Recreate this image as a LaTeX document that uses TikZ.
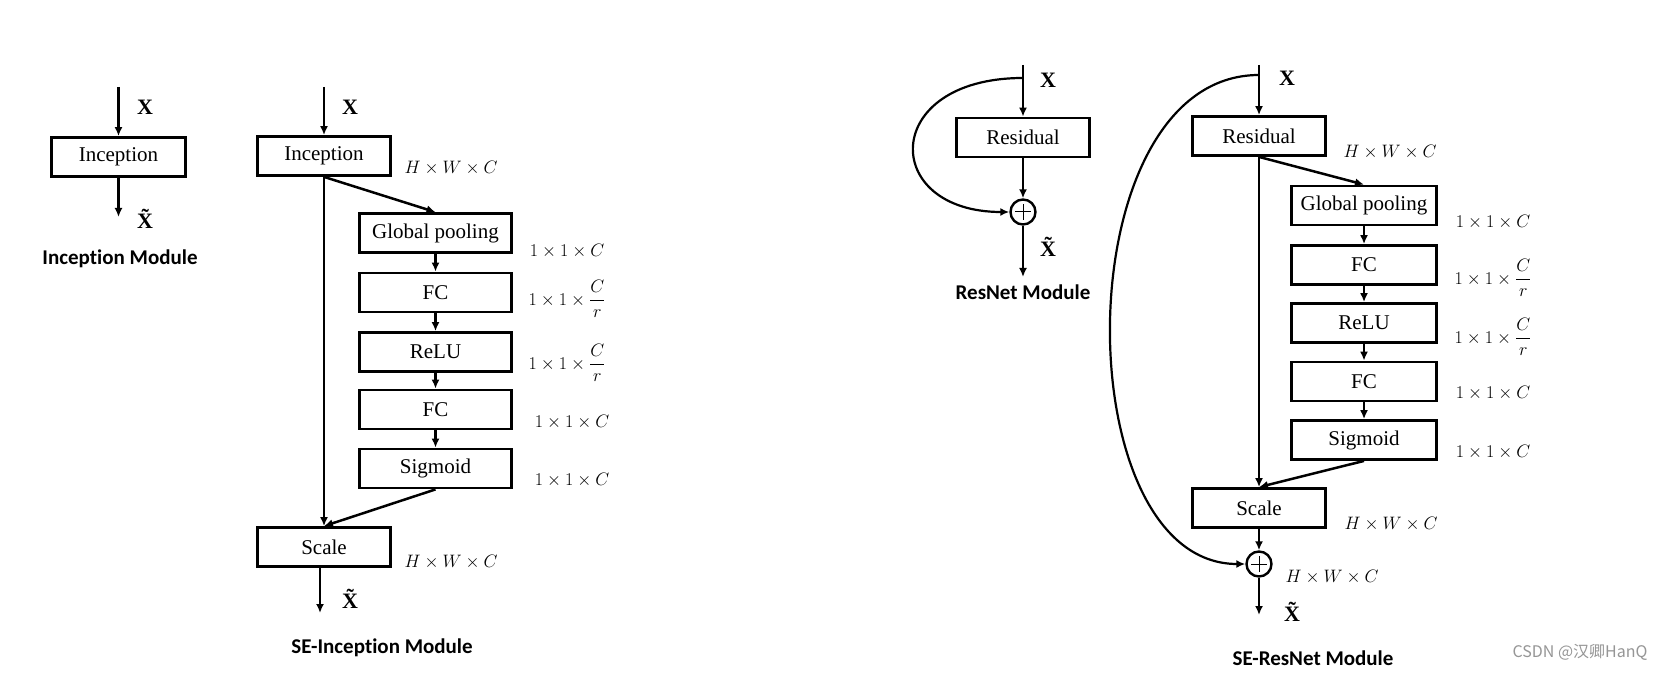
\RequirePackage{fix-cm}
\documentclass[tikz,border=0pt]{standalone}
\usepackage{fontspec}
\setmainfont{Liberation Serif}
\newfontfamily\titlefont[Ligatures={NoCommon}]{Carlito}
\newfontfamily\cjkfont{Noto Sans CJK SC}
\usetikzlibrary{arrows.meta}
\definecolor{wmgray}{RGB}{150,150,150}
\tikzset{
  blk/.style={draw, line width=2.8pt, inner sep=0pt, minimum height=39pt, font=\fontsize{21}{24}\selectfont},
  arr/.style={line width=2.5pt, -{Latex[length=9pt,width=8pt]}},
  carr/.style={line width=2.2pt, -{Latex[length=9pt,width=8pt]}},
  xlab/.style={inner sep=0pt, font=\fontsize{22}{24}\selectfont\bfseries},
  dlab/.style={inner sep=0pt, font=\fontsize{18}{20}\selectfont},
  hlab/.style={inner sep=0pt, font=\fontsize{18}{20}\selectfont},
  ttl/.style={inner sep=0pt, font=\fontsize{21}{24}\selectfont\titlefont\bfseries},
  wm/.style={inner sep=0pt, text=wmgray, font=\fontsize{16}{18}\selectfont\cjkfont},
  plusc/.style={draw, circle, line width=2.4pt, minimum size=25pt, inner sep=0pt,
    path picture={\draw[line width=1pt]
      ([xshift=-8pt]path picture bounding box.center) -- ([xshift=8pt]path picture bounding box.center)
      ([yshift=-8pt]path picture bounding box.center) -- ([yshift=8pt]path picture bounding box.center);}}
}
\begin{document}
\begin{tikzpicture}[x=1pt,y=-1pt]
\useasboundingbox (0,0) rectangle (1660,676);
\fill[white] (0,0) rectangle (1660,676);

% ---------- Inception Module ----------
\node[blk, minimum width=134pt] (inc1) at (118.5,157) {Inception};
\coordinate (inc1in) at (118.5,87);
\coordinate (inc1out) at (118.5,217);
\draw[arr] (inc1in) -- (inc1.north);
\draw[arr] (inc1.south) -- (inc1out);
\node[xlab] (x1) at (145,107) {X};
\node[xlab] (xt1) at (145,219) {\~X};
\node[ttl] (t1) at (120,259) {Inception Module};

% ---------- SE-Inception Module ----------
\node[blk, minimum width=133pt] (inc2) at (324,156) {Inception};
\node[blk, minimum width=152pt] (gp1) at (435.5,233) {Global pooling};
\node[blk, minimum width=152pt] (fc1) at (435.5,292.5) {FC};
\node[blk, minimum width=152pt] (relu1) at (435.5,352) {ReLU};
\node[blk, minimum width=152pt] (fc2) at (435.5,409.5) {FC};
\node[blk, minimum width=152pt] (sig1) at (435.5,468.5) {Sigmoid};
\node[blk, minimum width=133pt] (scale1) at (324,547) {Scale};
\coordinate (inc2in) at (324,87);
\coordinate (scale1out) at (320,613);
\draw[arr] (inc2in) -- (inc2.north);
\draw[arr] (inc2.south) -- (scale1.north);
\draw[arr] (inc2.south) -- (gp1.north);
\draw[arr] (gp1) -- (fc1);
\draw[arr] (fc1) -- (relu1);
\draw[arr] (relu1) -- (fc2);
\draw[arr] (fc2) -- (sig1);
\draw[arr] (sig1.south) -- (scale1.north);
\draw[arr] ([xshift=-4pt]scale1.south) -- (scale1out);
\node[xlab] (x2) at (350,107) {X};
\node[xlab] (xt2) at (350,599) {\~X};
\node[hlab] (hw1) at (451,168) {$H\times W\times C$};
\node[dlab] (d1) at (567,251) {$1\times 1\times C$};
\node[dlab] (d2) at (567,299) {$1\times 1\times \displaystyle\frac{C}{r}$};
\node[dlab] (d3) at (567,363) {$1\times 1\times \displaystyle\frac{C}{r}$};
\node[dlab] (d4) at (572,422) {$1\times 1\times C$};
\node[dlab] (d5) at (572,480) {$1\times 1\times C$};
\node[hlab] (hw2) at (451,562) {$H\times W\times C$};
\node[ttl] (t2) at (382,648) {SE-Inception Module};

% ---------- ResNet Module ----------
\node[blk, minimum width=133.5pt] (res1) at (1023,137.5) {Residual};
\node[plusc] (plus1) at (1023,212) {};
\coordinate (res1in) at (1023,65);
\coordinate (rs1) at (1023,78);
\coordinate (res1out) at (1023,277);
\draw[arr] (res1in) -- (res1.north);
\draw[arr] (res1.south) -- (plus1.north);
\draw[arr] (plus1.south) -- (res1out);
\draw[carr] (rs1) .. controls (880,78) and (880,212) .. (plus1.west);
\node[xlab] (x3) at (1048,80) {X};
\node[xlab] (xt3) at (1048,247) {\~X};
\node[ttl] (t3) at (1023,292) {ResNet Module};

% ---------- SE-ResNet Module ----------
\node[blk, minimum width=132.5pt] (res2) at (1259,136) {Residual};
\node[blk, minimum width=145.5pt] (gp2) at (1364,205.5) {Global pooling};
\node[blk, minimum width=145.5pt] (fc3) at (1364,265) {FC};
\node[blk, minimum width=145.5pt] (relu2) at (1364,323) {ReLU};
\node[blk, minimum width=145.5pt] (fc4) at (1364,381.5) {FC};
\node[blk, minimum width=145.5pt] (sig2) at (1364,440) {Sigmoid};
\node[blk, minimum width=132.5pt] (scale2) at (1259,508) {Scale};
\node[plusc] (plus2) at (1259,564) {};
\coordinate (res2in) at (1259,65);
\coordinate (rs2) at (1259,75);
\coordinate (res2out) at (1259,615);
\draw[arr] (res2in) -- (res2.north);
\draw[arr] (res2.south) -- (scale2.north);
\draw[arr] (res2.south) -- (gp2.north);
\draw[arr] (gp2) -- (fc3);
\draw[arr] (fc3) -- (relu2);
\draw[arr] (relu2) -- (fc4);
\draw[arr] (fc4) -- (sig2);
\draw[arr] (sig2.south) -- (scale2.north);
\draw[arr] (scale2.south) -- (plus2.north);
\draw[arr] (plus2.south) -- (res2out);
\draw[carr] (rs2) .. controls (1064,75) and (1064,564) .. (plus2.west);
\node[xlab] (x4) at (1287,78) {X};
\node[xlab] (xt4) at (1292,612) {\~X};
\node[hlab] (hw3) at (1390,152) {$H\times W\times C$};
\node[dlab] (e1) at (1493,222) {$1\times 1\times C$};
\node[dlab] (e2) at (1493,278) {$1\times 1\times \displaystyle\frac{C}{r}$};
\node[dlab] (e3) at (1493,337) {$1\times 1\times \displaystyle\frac{C}{r}$};
\node[dlab] (e4) at (1493,393) {$1\times 1\times C$};
\node[dlab] (e5) at (1493,452) {$1\times 1\times C$};
\node[hlab] (hw4) at (1391,524) {$H\times W\times C$};
\node[hlab] (hw5) at (1332,577) {$H\times W\times C$};
\node[ttl] (t4) at (1313,658) {SE-ResNet Module};

\node[wm] (wmk) at (1580,652) {CSDN @汉卿HanQ};
\end{tikzpicture}
\end{document}
